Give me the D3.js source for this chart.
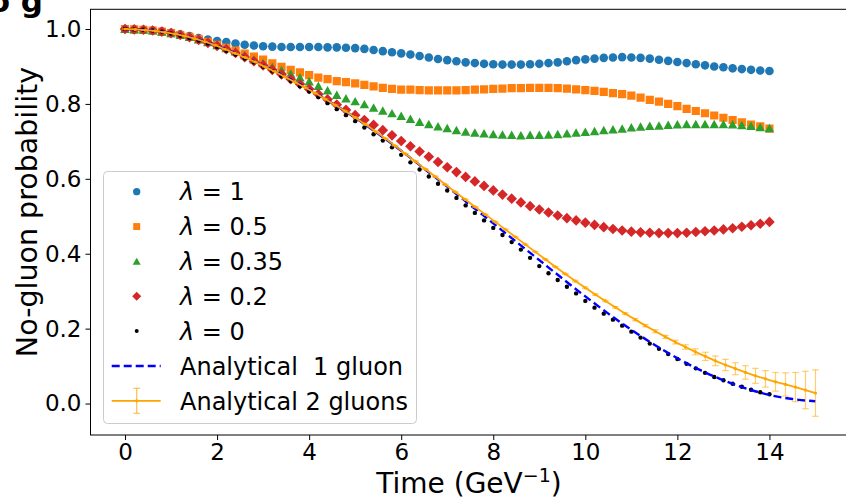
<!DOCTYPE html>
<html><head><meta charset="utf-8">
<script src="https://cdn.jsdelivr.net/npm/d3@7/dist/d3.min.js"></script>
<style>
body{margin:0;background:#fff}
svg{display:block}
text{font-family:"DejaVu Sans",sans-serif;fill:#000}
</style>
</head><body>
<svg id="chart" width="846" height="499"></svg>
<script>
// ---------------- data ----------------
const seriesLabels = ["1", "0.5", "0.35", "0.2", "0"];
const seriesColors = ["#1f77b4", "#ff7f0e", "#2ca02c", "#d62728", "#000000"];
const xTicks = [0, 2, 4, 6, 8, 10, 12, 14];
const yTicks = [0.0, 0.2, 0.4, 0.6, 0.8, 1.0];

// simulation times (step 0.2, 0..14)
const timeLambda = d3.range(71).map(i => +(i * 0.2).toFixed(1));

const pLambda1 = [1.000,0.999,0.998,0.996,0.993,0.990,0.986,0.981,0.976,0.972,
  0.968,0.965,0.961,0.958,0.956,0.954,0.953,0.952,0.952,0.952,
  0.952,0.952,0.951,0.951,0.950,0.949,0.947,0.944,0.941,0.938,
  0.935,0.932,0.928,0.924,0.920,0.917,0.914,0.911,0.909,0.907,
  0.906,0.905,0.905,0.905,0.906,0.907,0.909,0.911,0.914,0.917,
  0.919,0.921,0.923,0.924,0.925,0.924,0.923,0.921,0.918,0.915,
  0.912,0.909,0.906,0.903,0.900,0.898,0.895,0.893,0.891,0.889,0.888];

const pLambda05 = [1.000,0.999,0.998,0.996,0.993,0.989,0.984,0.979,0.973,0.966,
  0.958,0.950,0.942,0.934,0.926,0.918,0.908,0.899,0.891,0.884,
  0.877,0.870,0.866,0.861,0.858,0.855,0.851,0.847,0.843,0.840,
  0.838,0.838,0.837,0.836,0.836,0.836,0.836,0.837,0.838,0.839,
  0.840,0.841,0.842,0.842,0.843,0.843,0.843,0.842,0.841,0.839,
  0.837,0.835,0.832,0.829,0.826,0.822,0.817,0.811,0.806,0.800,
  0.794,0.787,0.781,0.775,0.769,0.763,0.757,0.751,0.745,0.740,0.734];

const pLambda035 = [1.000,0.999,0.998,0.996,0.993,0.989,0.984,0.979,0.972,0.965,
  0.957,0.949,0.940,0.930,0.919,0.909,0.899,0.890,0.881,0.871,
  0.860,0.848,0.836,0.824,0.815,0.807,0.799,0.790,0.782,0.775,
  0.768,0.760,0.752,0.746,0.740,0.735,0.730,0.726,0.723,0.721,
  0.719,0.718,0.717,0.716,0.717,0.717,0.718,0.719,0.721,0.723,
  0.725,0.727,0.730,0.732,0.734,0.737,0.739,0.741,0.742,0.744,
  0.745,0.746,0.746,0.746,0.746,0.746,0.745,0.743,0.741,0.738,0.735];

const pLambda02 = [1.000,0.999,0.998,0.996,0.993,0.989,0.984,0.978,0.971,0.963,
  0.955,0.946,0.936,0.925,0.914,0.903,0.891,0.879,0.866,0.853,
  0.840,0.826,0.812,0.798,0.784,0.770,0.757,0.744,0.730,0.716,
  0.701,0.687,0.673,0.659,0.645,0.631,0.618,0.605,0.593,0.581,
  0.569,0.558,0.547,0.537,0.527,0.518,0.510,0.502,0.495,0.489,
  0.483,0.477,0.471,0.466,0.462,0.459,0.457,0.456,0.455,0.455,
  0.455,0.456,0.458,0.460,0.462,0.465,0.468,0.472,0.476,0.480,0.485];

const pLambda0 = [1.000,0.999,0.998,0.996,0.993,0.988,0.982,0.976,0.969,0.961,
  0.952,0.942,0.932,0.921,0.911,0.899,0.887,0.874,0.861,0.847,
  0.833,0.818,0.802,0.786,0.770,0.754,0.737,0.719,0.702,0.684,
  0.664,0.644,0.625,0.606,0.587,0.569,0.549,0.529,0.509,0.489,
  0.469,0.450,0.431,0.411,0.389,0.367,0.348,0.330,0.312,0.294,
  0.274,0.256,0.240,0.224,0.208,0.192,0.176,0.160,0.146,0.132,
  0.119,0.106,0.094,0.082,0.071,0.062,0.053,0.045,0.037,0.030,0.025];

// analytical 1 gluon (step 0.5, 0..15)
const time1g = d3.range(31).map(i => i * 0.5);
const p1gluon = [1.000,0.997,0.989,0.975,0.955,0.930,0.903,0.872,0.839,0.802,
  0.763,0.720,0.675,0.627,0.579,0.530,0.481,0.432,0.383,0.334,
  0.286,0.240,0.197,0.157,0.121,0.089,0.062,0.040,0.023,0.012,0.006];

// analytical 2 gluons (70 samples, 0..15)
const time2g = d3.range(70).map(i => i * 15 / 69);
const p2gluon = [1.000,0.999,0.997,0.995,0.991,0.987,0.981,0.974,0.966,0.957,
  0.946,0.935,0.924,0.912,0.899,0.886,0.872,0.858,0.844,0.829,
  0.813,0.797,0.781,0.764,0.746,0.727,0.708,0.688,0.667,0.647,
  0.626,0.606,0.585,0.565,0.545,0.525,0.505,0.485,0.465,0.445,
  0.425,0.405,0.385,0.365,0.346,0.327,0.309,0.291,0.274,0.257,
  0.240,0.224,0.208,0.193,0.178,0.164,0.151,0.138,0.126,0.114,
  0.103,0.093,0.083,0.074,0.066,0.058,0.051,0.044,0.036,0.028];
const err2gluon = [0,0,0,0,0,0,0,0,0,0,
  0,0,0,0,0,0,0,0,0,0,
  0,0,0,0,0,0,0,0,0,0,
  0.001,0.001,0.001,0.001,0.001,0.001,0.001,0.001,0.001,0.001,
  0.001,0.001,0.001,0.001,0.001,0.002,0.002,0.002,0.002,0.002,
  0.002,0.003,0.003,0.004,0.004,0.005,0.006,0.008,0.011,0.013,
  0.015,0.016,0.018,0.020,0.022,0.025,0.031,0.039,0.050,0.062];

const seriesValues = [pLambda1, pLambda05, pLambda035, pLambda02, pLambda0];

// ---------------- layout ----------------
const svg = d3.select("#chart");
const L = 90.5, R = 850, T = 9.3, B = 435;
const x = d3.scaleLinear().domain([-0.75, 15.75]).range([L, R]);
const y = d3.scaleLinear().domain([-0.084, 1.0526]).range([B, T]);

// clipped title fragment at the very top (cut off in the original figure too)
svg.append("text").attr("x", 43).attr("y", 12).attr("text-anchor", "end")
  .style("font-size", "31px").style("font-weight", "bold").text("o g");

svg.append("defs").append("clipPath").attr("id", "plotclip")
  .append("rect").attr("x", L).attr("y", T).attr("width", R - L).attr("height", B - T);

const plot = svg.append("g").attr("clip-path", "url(#plotclip)");

// marker shapes
function markerPath(kind, s) {
  if (kind === 0) return d3.symbol(d3.symbolCircle, Math.PI * s * s)();
  if (kind === 1) return `M${-s},${-s}H${s}V${s}H${-s}Z`;
  if (kind === 2) return `M0,${-s * 1.02}L${s * 1.1},${s * 0.95}L${-s * 1.1},${s * 0.95}Z`;
  if (kind === 3) return `M0,${-s * 1.3}L${s * 1.3},0L0,${s * 1.3}L${-s * 1.3},0Z`;
  return d3.symbol(d3.symbolCircle, Math.PI * s * s)();
}
const markerSize = [4.3, 4.1, 4.3, 4.1, 2.2];

seriesValues.forEach((vals, k) => {
  plot.append("g").selectAll("path").data(vals).join("path")
    .attr("transform", (d, i) => `translate(${x(timeLambda[i])},${y(d)})`)
    .attr("d", markerPath(k, markerSize[k]))
    .attr("fill", seriesColors[k]);
});

// analytical 1 gluon
plot.append("path").datum(p1gluon)
  .attr("fill", "none").attr("stroke", "#0000ff").attr("stroke-width", 2.4)
  .attr("stroke-dasharray", "8,4")
  .attr("d", d3.line().x((d, i) => x(time1g[i])).y(d => y(d)).curve(d3.curveMonotoneX));

// analytical 2 gluons with error bars
const eb = plot.append("g").attr("stroke", "#ffa500").attr("stroke-opacity", 0.55).attr("stroke-width", 1.2);
p2gluon.forEach((d, i) => {
  const cx = x(time2g[i]), e = err2gluon[i];
  eb.append("line").attr("x1", cx).attr("x2", cx).attr("y1", y(d - e)).attr("y2", y(d + e));
  eb.append("line").attr("x1", cx - 3.3).attr("x2", cx + 3.3).attr("y1", y(d - e)).attr("y2", y(d - e));
  eb.append("line").attr("x1", cx - 3.3).attr("x2", cx + 3.3).attr("y1", y(d + e)).attr("y2", y(d + e));
});
plot.append("path").datum(p2gluon)
  .attr("fill", "none").attr("stroke", "#ffa500").attr("stroke-width", 1.8)
  .attr("d", d3.line().x((d, i) => x(time2g[i])).y(d => y(d)));
plot.append("g").selectAll("circle").data(p2gluon).join("circle")
  .attr("cx", (d, i) => x(time2g[i])).attr("cy", d => y(d)).attr("r", 1.6).attr("fill", "#ffa500");

// ---------------- axes ----------------
const xAxis = svg.append("g").attr("transform", `translate(0,${B})`)
  .call(d3.axisBottom(x).tickValues(xTicks).tickSize(5).tickPadding(4).tickFormat(d3.format("d")));
const yAxis = svg.append("g").attr("transform", `translate(${L},0)`)
  .call(d3.axisLeft(y).tickValues(yTicks).tickSize(5).tickPadding(4).tickFormat(d3.format(".1f")));
[xAxis, yAxis].forEach(a => {
  a.select(".domain").remove();
  a.selectAll(".tick line").attr("stroke", "#000").attr("stroke-width", 1);
  a.selectAll(".tick text").style("font-size", "23px").style("font-family", "DejaVu Sans").attr("fill", "#000");
});

// frame
svg.append("rect").attr("x", L).attr("y", T).attr("width", R - L).attr("height", B - T)
  .attr("fill", "none").attr("stroke", "#000").attr("stroke-width", 1);

// axis labels
const xl = svg.append("text").attr("x", 469).attr("y", 493).attr("text-anchor", "middle")
  .style("font-size", "28px");
xl.append("tspan").text("Time (GeV");
xl.append("tspan").attr("dy", -11).style("font-size", "19px").text("−1");
xl.append("tspan").attr("dy", 11).text(")");

svg.append("text").attr("transform", "translate(37,212) rotate(-90)").attr("text-anchor", "middle")
  .style("font-size", "28.5px").text("No-gluon probability");

// ---------------- legend ----------------
const lg = svg.append("g");
lg.append("rect").attr("x", 103.5).attr("y", 171.5).attr("width", 313).attr("height", 252).attr("rx", 4)
  .attr("fill", "#fff").attr("fill-opacity", 0.8).attr("stroke", "#cccccc").attr("stroke-width", 1);
const rowY = i => 191.7 + i * 34.85;
const mx = 136.7, tx = 180, fs = "24px";
seriesLabels.forEach((lab, k) => {
  lg.append("path").attr("transform", `translate(${mx},${rowY(k)})`)
    .attr("d", markerPath(k, k === 4 ? 2.0 : markerSize[k] * 0.85)).attr("fill", seriesColors[k]);
  const t = lg.append("text").attr("x", tx).attr("y", rowY(k) + 8.7).style("font-size", fs)
    .attr("xml:space", "preserve");
  t.append("tspan").style("font-style", "italic").text("λ");
  t.append("tspan").text(" = " + lab);
});
// 1 gluon handle
lg.append("line").attr("x1", 111.7).attr("x2", 160.7).attr("y1", rowY(5)).attr("y2", rowY(5))
  .attr("stroke", "#0000ff").attr("stroke-width", 2.4).attr("stroke-dasharray", "8,4");
lg.append("text").attr("x", tx).attr("y", rowY(5) + 8.7).style("font-size", fs)
  .style("white-space", "pre").text("Analytical  1 gluon");
// 2 gluons handle
const hy = rowY(6);
lg.append("line").attr("x1", 111.7).attr("x2", 160.7).attr("y1", hy).attr("y2", hy)
  .attr("stroke", "#ffa500").attr("stroke-width", 1.8);
lg.append("line").attr("x1", mx).attr("x2", mx).attr("y1", hy - 12.5).attr("y2", hy + 12.5)
  .attr("stroke", "#ffa500").attr("stroke-opacity", 0.7).attr("stroke-width", 1.2);
[hy - 12.5, hy + 12.5].forEach(yy => lg.append("line").attr("x1", mx - 3.3).attr("x2", mx + 3.3)
  .attr("y1", yy).attr("y2", yy).attr("stroke", "#ffa500").attr("stroke-opacity", 0.7).attr("stroke-width", 1.2));
lg.append("circle").attr("cx", mx).attr("cy", hy).attr("r", 1.6).attr("fill", "#ffa500");
lg.append("text").attr("x", tx).attr("y", hy + 8.7).style("font-size", fs).text("Analytical 2 gluons");
</script>
</body></html>
